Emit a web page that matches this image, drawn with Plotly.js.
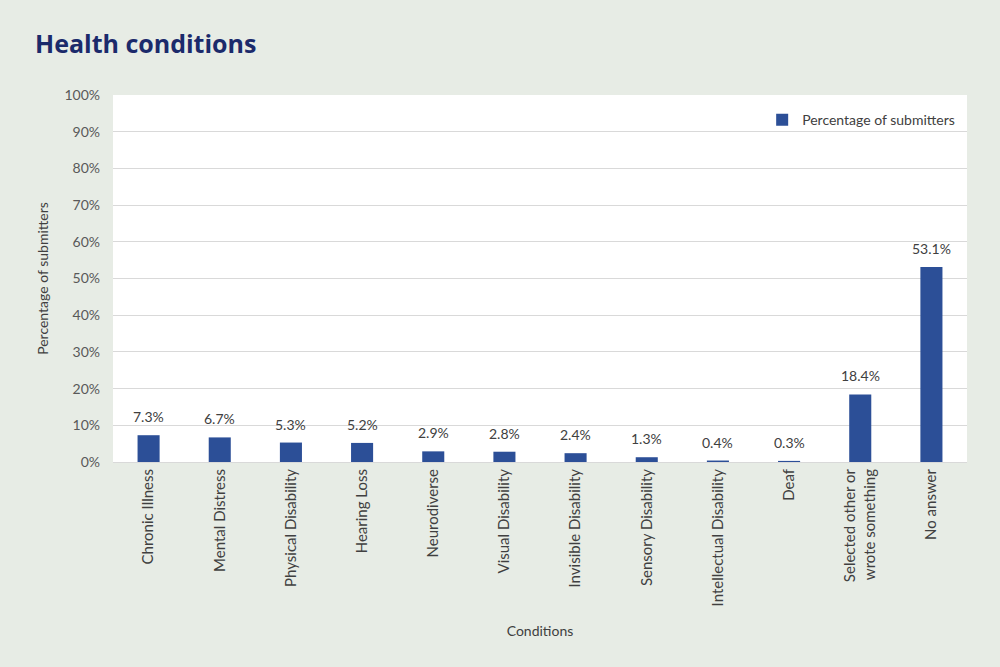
<!DOCTYPE html>
<html>
<head>
<meta charset="utf-8">
<script src="https://cdn.plot.ly/plotly-3.0.1.min.js"></script>
<style>
html,body{margin:0;padding:0;background:#e7ece5;}
#chart{width:1000px;height:667px;}
</style>
</head>
<body>
<div id="chart"></div>
<script>
const categories = ["Chronic Illness","Mental Distress","Physical Disability","Hearing Loss","Neurodiverse","Visual Disability","Invisible Disability","Sensory Disability","Intellectual Disability","Deaf","Selected other or<br>wrote something","No answer"];
const values = [7.3, 6.7, 5.3, 5.2, 2.9, 2.8, 2.4, 1.3, 0.4, 0.3, 18.4, 53.1];
const valueLabels = values.map(v => v.toFixed(1) + "%");
const yTickVals = [0,10,20,30,40,50,60,70,80,90,100];
const yTickText = yTickVals.map(v => v + "%");

const trace = {
  type: "bar",
  x: categories,
  y: values,
  name: "Percentage of submitters",
  marker: {color: "#2c4f97"},
  width: 0.31
};

const labelAnnotations = categories.map((c, i) => ({
  x: c, y: values[i], xref: "x", yref: "y",
  text: valueLabels[i], showarrow: false,
  yanchor: "bottom", yshift: 8,
  font: {family: "Lato, 'Open Sans', sans-serif", size: 14, color: "#404040"}
}));

const layout = {
  width: 1000, height: 667,
  paper_bgcolor: "#e7ece5",
  plot_bgcolor: "#ffffff",
  margin: {l: 113, r: 33, t: 95, b: 205},
  title: {
    text: "<b>Health conditions</b>",
    x: 0.035, xanchor: "left", y: 0.934, yanchor: "middle",
    font: {family: "'Open Sans', 'Noto Sans', sans-serif", size: 25, color: "#1b2a6b"}
  },
  font: {family: "Lato, 'Open Sans', sans-serif", color: "#595959", size: 14},
  annotations: labelAnnotations,
  xaxis: {
    type: "category",
    tickangle: -90,
    ticks: "",
    showline: true, linecolor: "#d9d9d9",
    tickfont: {size: 15, color: "#404040"},
    title: {text: "Conditions", font: {size: 14, color: "#404040"}, standoff: 20}
  },
  yaxis: {
    range: [0, 100],
    tickvals: yTickVals,
    ticktext: yTickText,
    showgrid: true, gridcolor: "#d9d9d9",
    zeroline: false,
    ticks: "",
    ticklabelstandoff: 12,
    tickfont: {size: 14, color: "#595959"},
    title: {text: "Percentage of submitters", font: {size: 14, color: "#404040"}, standoff: 12}
  },
  showlegend: true,
  legend: {
    x: 0.992, xanchor: "right", y: 0.975, yanchor: "top",
    bgcolor: "rgba(0,0,0,0)",
    font: {size: 14, color: "#404040"},
    itemwidth: 30
  },
  bargap: 0.69
};

Plotly.newPlot("chart", [trace], layout, {displayModeBar: false, staticPlot: true});
</script>
</body>
</html>
